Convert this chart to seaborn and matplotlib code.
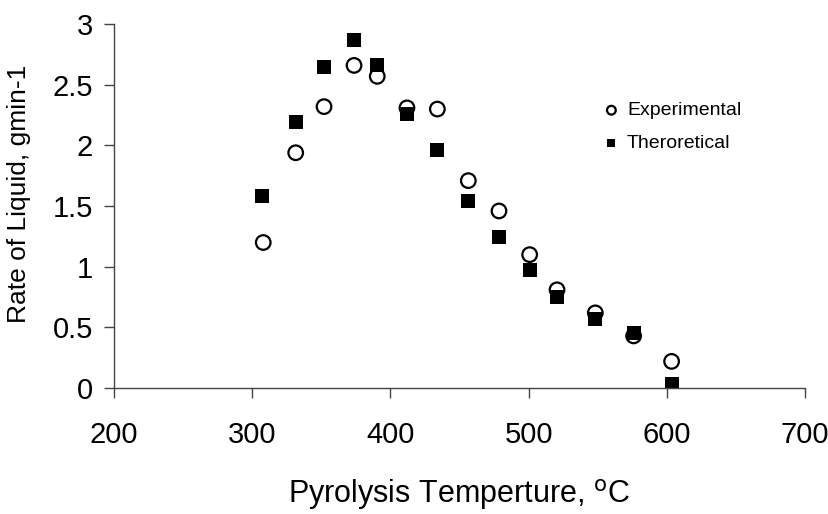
import matplotlib
matplotlib.use("Agg")
import matplotlib.pyplot as plt
import seaborn as sns
import pandas as pd

temp_exp = [308, 331.5, 352, 373.7, 390.5, 412, 434, 456.4, 478.6, 500.8, 520.6, 548.3, 576, 603.5]
rate_exp = [1.20, 1.94, 2.32, 2.66, 2.57, 2.31, 2.30, 1.71, 1.46, 1.10, 0.81, 0.62, 0.43, 0.22]
temp_theo = [307.3, 331.5, 352, 373.7, 390.5, 412, 434, 456.4, 478.6, 500.8, 520.6, 548.3, 576, 603.5]
rate_theo = [1.58, 2.19, 2.65, 2.87, 2.66, 2.26, 1.96, 1.54, 1.245, 0.97, 0.75, 0.57, 0.45, 0.03]

x_ticks = [200, 300, 400, 500, 600, 700]
y_ticks = [0, 0.5, 1, 1.5, 2, 2.5, 3]
y_tick_labels = ["0", "0.5", "1", "1.5", "2", "2.5", "3"]

sns.set_theme(style="white")
plt.rcParams["font.family"] = ["Liberation Sans", "DejaVu Sans"]
plt.rcParams["text.color"] = "black"
plt.rcParams["axes.labelcolor"] = "black"
plt.rcParams["xtick.color"] = "black"
plt.rcParams["ytick.color"] = "black"

df_exp = pd.DataFrame({"T": temp_exp, "R": rate_exp})
df_theo = pd.DataFrame({"T": temp_theo, "R": rate_theo})

fig = plt.figure(figsize=(8.29, 5.14), dpi=100)
ax = fig.add_axes([0.1375, 0.245, 0.8335, 0.708])

sns.scatterplot(data=df_theo, x="T", y="R", marker="s", s=115, color="black",
                edgecolor="black", linewidth=0, label="Theroretical", ax=ax, zorder=2)
sns.scatterplot(data=df_exp, x="T", y="R", marker="o", s=110, facecolor="none",
                edgecolor="black", linewidth=1.6, label="Experimental", ax=ax, zorder=3)

ax.set_xlim(200, 700)
ax.set_ylim(0, 3)
ax.set_xticks(x_ticks)
ax.set_yticks(y_ticks)
ax.set_yticklabels(y_tick_labels)
ax.tick_params(axis="both", direction="out", length=7, width=1,
               labelsize=21, bottom=True, left=True)
ax.tick_params(axis="both", color="#444444")
ax.tick_params(axis="x", pad=17)
ax.tick_params(axis="y", pad=8)
for side in ["top", "right"]:
    ax.spines[side].set_visible(False)
for side in ["left", "bottom"]:
    ax.spines[side].set_color("#444444")
    ax.spines[side].set_linewidth(1)

ax.set_xlabel("Pyrolysis Temperture, $^{\\mathrm{o}}$C", fontsize=22, labelpad=20)
ax.set_ylabel("Rate of Liquid, gmin-1", fontsize=19)
ax.yaxis.set_label_coords(-0.12, 0.535)

handles, labels = ax.get_legend_handles_labels()
order = [labels.index("Experimental"), labels.index("Theroretical")]
ax.legend([handles[i] for i in order], [labels[i] for i in order],
          loc="upper left", bbox_to_anchor=(0.672, 0.835), frameon=False,
          markerscale=0.6, fontsize=14, handletextpad=0.0, labelspacing=0.8,
          handlelength=1.6)

fig.savefig("out.png", dpi=100)
